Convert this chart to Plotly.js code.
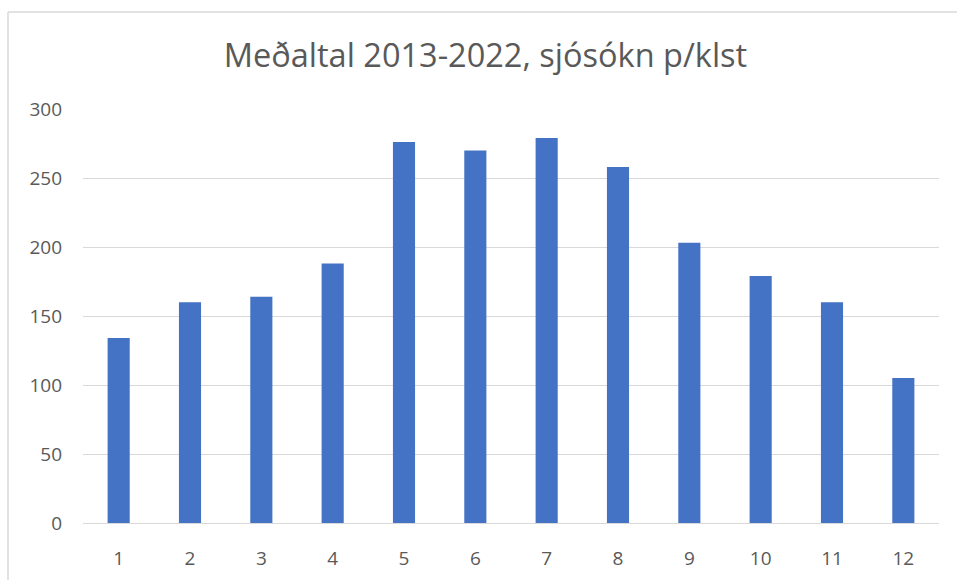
<!DOCTYPE html>
<html>
<head>
<meta charset="utf-8">
<script src="https://cdn.plot.ly/plotly-3.0.1.min.js"></script>
<style>
  html, body { margin: 0; padding: 0; background: #ffffff; }
  #chart { width: 957px; height: 580px; }
</style>
</head>
<body>
<div id="chart"></div>
<script>
const months = ["1", "2", "3", "4", "5", "6", "7", "8", "9", "10", "11", "12"];
const values = [134, 160, 164, 188, 276, 270, 279, 258, 203, 179, 160, 105];
const yTicks = [0, 50, 100, 150, 200, 250, 300];
const chartTitle = "Meðaltal 2013-2022, sjósókn p/klst";

const W = 957, H = 580;
const m = { l: 83, r: 18, t: 109, b: 57 };
const pw = W - m.l - m.r, ph = H - m.t - m.b;
const px = v => (v - m.l) / pw;
const py = v => 1 - (v - m.t) / ph;

const trace = {
  type: "bar",
  x: months,
  y: values,
  marker: { color: "#4472C4" },
  hoverinfo: "x+y"
};

const layout = {
  width: W,
  height: H,
  margin: m,
  paper_bgcolor: "#ffffff",
  plot_bgcolor: "#ffffff",
  bargap: 0.69,
  showlegend: false,
  font: { family: "'Open Sans', 'Noto Sans', sans-serif", color: "#595959" },
  title: {
    text: chartTitle,
    x: 485.5 / W,
    xanchor: "center",
    y: 1 - 56 / H,
    yanchor: "middle",
    font: { size: 32.5, color: "#595959", family: "'Open Sans', 'Noto Sans', sans-serif" }
  },
  xaxis: {
    type: "category",
    tickfont: { size: 19, color: "#595959" },
    showgrid: false,
    showline: true,
    linecolor: "#d9d9d9",
    linewidth: 1,
    ticks: "",
    ticklabelstandoff: 18,
    fixedrange: true
  },
  yaxis: {
    range: [0, 300],
    tickvals: yTicks,
    ticktext: yTicks.map(String),
    tickfont: { size: 19, color: "#595959" },
    showgrid: true,
    gridcolor: "#d9d9d9",
    gridwidth: 1,
    zeroline: false,
    showline: false,
    ticks: "",
    ticklabelstandoff: 20,
    fixedrange: true
  },
  shapes: [
    { type: "line", xref: "paper", yref: "paper",
      x0: px(8), x1: px(8), y0: py(12), y1: py(H + 5),
      line: { color: "#d9d9d9", width: 1.5 } },
    { type: "line", xref: "paper", yref: "paper",
      x0: px(8), x1: px(W + 5), y0: py(12), y1: py(12),
      line: { color: "#d9d9d9", width: 1.5 } }
  ]
};

Plotly.newPlot("chart", [trace], layout, { displayModeBar: false, staticPlot: true });
</script>
</body>
</html>
